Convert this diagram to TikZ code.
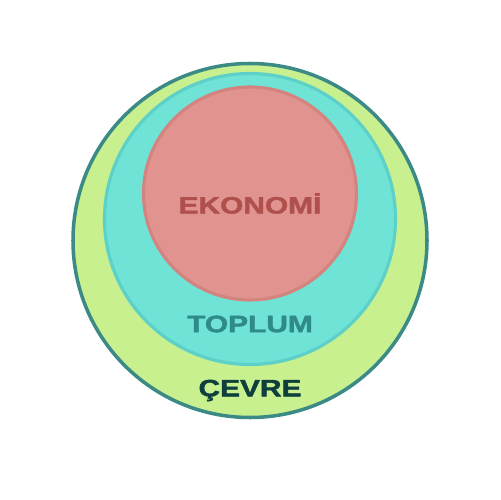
\documentclass[tikz,border=0pt]{standalone}
\usepackage{fontspec}
\setmainfont{Liberation Sans}
\newfontfamily\heavyfont[FakeBold=1.6]{Liberation Sans Bold}
\usepackage{tikz}
\definecolor{cevreFill}{HTML}{C8F08F}
\definecolor{cevreLine}{HTML}{3B8A86}
\definecolor{toplumFill}{HTML}{6FE3D6}
\definecolor{toplumLine}{HTML}{5DD0C8}
\definecolor{ekoFill}{HTML}{E0938F}
\definecolor{ekoLine}{HTML}{D4847F}
\definecolor{ekoText}{HTML}{B0504D}
\definecolor{toplumText}{HTML}{2F8B88}
\definecolor{cevreText}{HTML}{0F3F3C}
\begin{document}
\begin{tikzpicture}[line cap=round,line join=round,x=0.02cm,y=-0.02cm,
  lbl/.style={font=\fontsize{13.5}{14}\heavyfont,xscale=1.26,inner sep=0pt}]
\useasboundingbox (0,0) rectangle (500,500);
\draw [fill=cevreFill,draw=cevreLine,line width=2pt] (250,240.5) circle (177);
\draw [fill=toplumFill,draw=toplumLine,line width=1.8pt] (250,219) circle (145.5);
\draw [fill=ekoFill,draw=ekoLine,line width=1.8pt] (250,193.5) circle (106.5);
\node [lbl,text=ekoText] (ekonomi) at (250,203.5) {EKONOMİ};
\node [lbl,text=toplumText] (toplum) at (250,324) {TOPLUM};
\node [lbl,text=cevreText] (cevre) at (250,390.5) {ÇEVRE};
\end{tikzpicture}
\end{document}
